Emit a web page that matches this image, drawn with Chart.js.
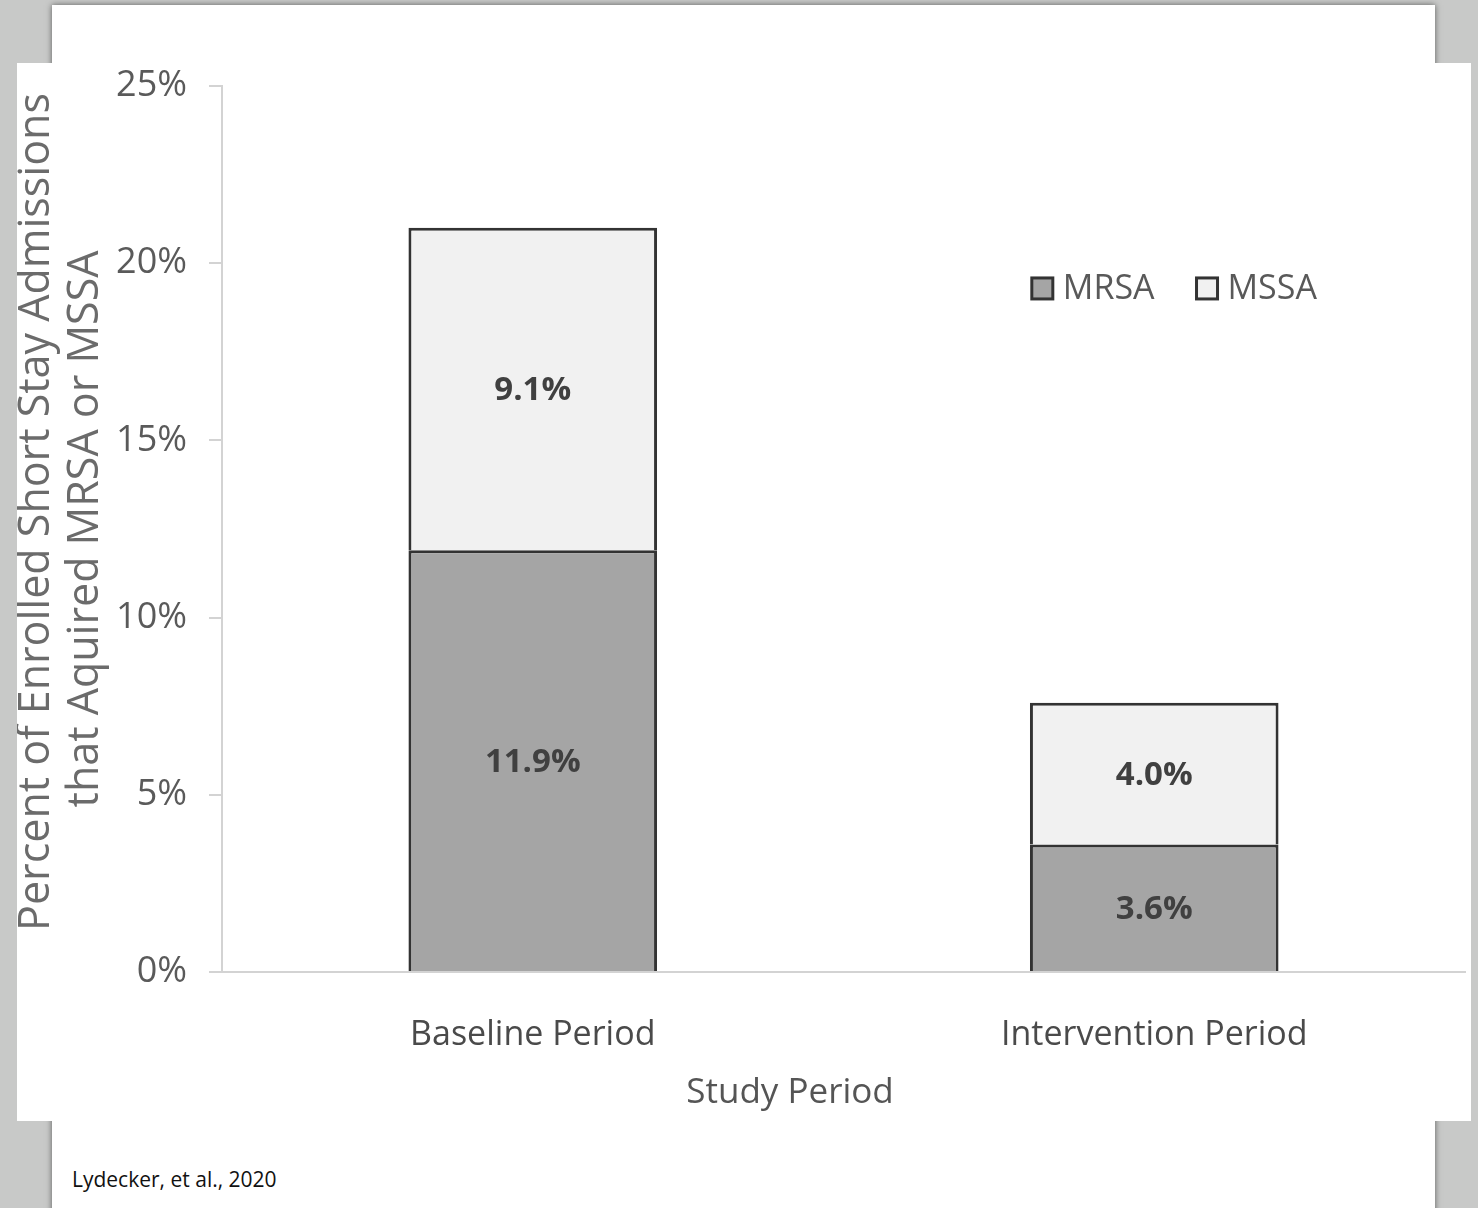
<!DOCTYPE html>
<html>
<head>
<meta charset="utf-8">
<script src="https://cdn.jsdelivr.net/npm/chart.js@4.4.1/dist/chart.umd.min.js"></script>
<style>
  html, body { margin: 0; padding: 0; }
  body { width: 1478px; height: 1208px; background: #c8c9c8; position: relative; overflow: hidden; font-family: "Open Sans", sans-serif; }
  #panel { position: absolute; left: 52px; top: 5px; width: 1383px; height: 1230px; background: #fff; box-shadow: 0 0 6px rgba(0,0,0,0.55); }
  #overlay { position: absolute; left: 17px; top: 63px; width: 1454px; height: 1058px; background: #fff; }
  #cite { position: absolute; left: 72px; top: 1169px; font-size: 21px; line-height: 1; color: #111; font-family: "Open Sans", sans-serif; white-space: nowrap; }
  canvas { display: block; }
</style>
</head>
<body>
<div id="panel"></div>
<div id="overlay"><canvas id="c" width="1454" height="1058"></canvas></div>
<div id="cite">Lydecker, et al., 2020</div>
<script>
const categories = ['Baseline Period', 'Intervention Period'];
const mrsaValues = [11.9, 3.6];
const mssaValues = [9.1, 4.0];
const seriesNames = ['MRSA', 'MSSA'];
const yTickValues = [0, 5, 10, 15, 20, 25];
const yTitleLines = ['Percent of Enrolled Short Stay Admissions', 'that Aquired MRSA or MSSA'];
const xTitle = 'Study Period';

const FONT = '"Open Sans", sans-serif';

const overlayPlugin = {
  id: 'overlayPlugin',
  afterDatasetsDraw(chart) {
    const ctx = chart.ctx;
    ctx.save();
    ctx.font = 'bold 33px ' + FONT;
    ctx.fillStyle = '#404040';
    ctx.textAlign = 'center';
    ctx.textBaseline = 'middle';
    chart.data.datasets.forEach((ds, i) => {
      const meta = chart.getDatasetMeta(i);
      meta.data.forEach((bar, j) => {
        const v = ds.data[j];
        ctx.fillText(v.toFixed(1) + '%', bar.x, (bar.y + bar.base) / 2 + 2);
      });
    });
    ctx.restore();
  },
  afterDraw(chart) {
    const ctx = chart.ctx;
    const a = chart.chartArea;
    ctx.save();
    // legend
    ctx.font = '34px ' + FONT;
    ctx.textBaseline = 'middle';
    ctx.textAlign = 'left';
    let x = a.left + 0.6515 * (a.right - a.left);
    const yMid = a.top + 0.2285 * (a.bottom - a.top);
    chart.data.datasets.forEach((ds) => {
      const s = 21;
      ctx.fillStyle = ds.backgroundColor;
      ctx.fillRect(x, yMid - s / 2, s, s);
      ctx.lineWidth = 3;
      ctx.strokeStyle = '#333';
      ctx.strokeRect(x, yMid - s / 2, s, s);
      ctx.fillStyle = '#595959';
      ctx.fillText(ds.label, x + s + 10, yMid + 1);
      x += s + 10 + ctx.measureText(ds.label).width + 42;
    });
    // y title
    ctx.fillStyle = '#6b6b6b';
    ctx.font = '43px ' + FONT;
    ctx.textAlign = 'center';
    ctx.textBaseline = 'middle';
    const ycx = [20, 69];
    const ycy = [a.top + 426, a.top + 443];
    yTitleLines.forEach((t, i) => {
      ctx.save();
      ctx.translate(ycx[i], ycy[i]);
      ctx.rotate(-Math.PI / 2);
      ctx.fillText(t, 0, 0);
      ctx.restore();
    });
    // x title
    ctx.fillStyle = '#555';
    ctx.font = '35px ' + FONT;
    ctx.textAlign = 'center';
    ctx.textBaseline = 'middle';
    ctx.fillText(xTitle, a.left + 568, a.bottom + 121);
    ctx.restore();
  }
};

new Chart(document.getElementById('c'), {
  type: 'bar',
  data: {
    labels: categories,
    datasets: [
      { label: seriesNames[0], data: mrsaValues, backgroundColor: '#a5a5a5', borderColor: '#333333', borderWidth: 3 },
      { label: seriesNames[1], data: mssaValues, backgroundColor: '#f1f1f1', borderColor: '#333333', borderWidth: 3 }
    ]
  },
  options: {
    responsive: false,
    animation: false,
    devicePixelRatio: 1,
    layout: { padding: { top: 23, right: 6, left: 0, bottom: 0 } },
    plugins: { legend: { display: false }, tooltip: { enabled: false } },
    datasets: { bar: { barPercentage: 0.4, categoryPercentage: 1.0 } },
    scales: {
      x: {
        stacked: true,
        grid: { display: false, drawTicks: false },
        border: { display: true, color: '#d3d3d3', width: 2 },
        ticks: { color: '#4a4a4a', font: { family: FONT, size: 34 }, padding: 43, maxRotation: 0 },
        afterFit(scale) { scale.height = 149; }
      },
      y: {
        stacked: true,
        min: 0,
        max: 25,
        afterBuildTicks(scale) { scale.ticks = yTickValues.map(v => ({ value: v })); },
        grid: { display: true, drawOnChartArea: false, drawTicks: true, tickLength: 13, color: '#d3d3d3', lineWidth: 2 },
        border: { display: true, color: '#d3d3d3', width: 2 },
        ticks: { color: '#5a5a5a', font: { family: FONT, size: 36 }, padding: 22, callback: v => v + '%' },
        afterFit(scale) { scale.width = 205; scale.paddingTop = 0; scale.paddingBottom = 0; }
      }
    }
  },
  plugins: [overlayPlugin]
});
</script>
</body>
</html>
